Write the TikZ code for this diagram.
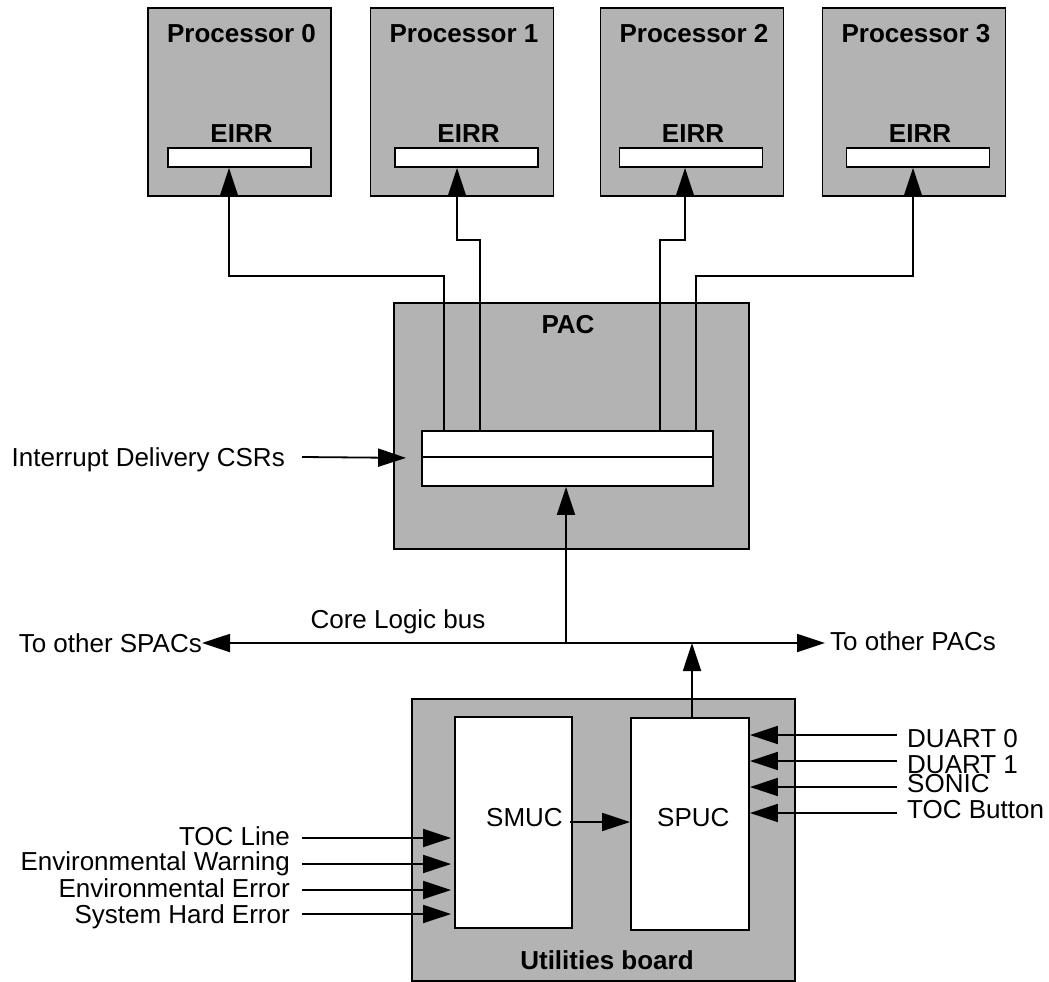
\documentclass[tikz,border=0pt]{standalone}
\usepackage{fontspec}
\setmainfont{Liberation Sans}
\usetikzlibrary{arrows.meta,calc}
\definecolor{boxgray}{RGB}{179,179,179}
\newcommand\myfs{\fontsize{26}{26}\selectfont}
\begin{document}
\begin{tikzpicture}[x=1pt,y=-1pt,
  gbox/.style={draw, line width=1.8pt, fill=boxgray, inner sep=0pt},
  wbox/.style={draw, line width=1.8pt, fill=white, inner sep=0pt},
  arr/.style={-{Triangle[length=28pt,width=18pt]}, line width=1.8pt},
  txt/.style={inner sep=0pt, font=\myfs},
  btxt/.style={inner sep=0pt, font=\myfs\bfseries},
]
\useasboundingbox (0,0) rectangle (1049,982);

% processors
\foreach \i/\cx/\bx in {0/239.5/239.5, 1/462/466.5, 2/692/691, 3/914/918}{
  \node[gbox, minimum width=183pt, minimum height=188pt] (p\i) at (\cx,102) {};
  \node[btxt, anchor=base] (pt\i) at (\cx+2,43) {Processor \i};
  \node[wbox, minimum width=143pt, minimum height=19pt] (e\i) at (\bx,157.5) {};
  \node[btxt, anchor=base] (el\i) at (\bx+2,142) {EIRR};
}

% PAC
\node[gbox, minimum width=355pt, minimum height=246pt] (pac) at (571.5,426) {};
\node[btxt, anchor=base] (pacl) at (568,333) {PAC};
\node[wbox, minimum width=291pt, minimum height=26pt] (csrA) at (567.5,444) {};
\node[wbox, minimum width=291pt, minimum height=29pt] (csrB) at (567.5,471.5) {};

% connectors PAC -> EIRR
\draw[arr] ($(csrA.north west)+(23,0)$) |- ($(e0.south)+(-10.5,108)$) -- ($(e0.south)+(-10.5,0)$);
\draw[arr] ($(csrA.north west)+(59,0)$) |- ($(e1.south)+(-9.5,72)$) -- ($(e1.south)+(-9.5,0)$);
\draw[arr] ($(csrA.north west)+(239,0)$) |- ($(e2.south)+(-6,72)$) -- ($(e2.south)+(-6,0)$);
\draw[arr] ($(csrA.north west)+(275,0)$) |- ($(e3.south)+(-5,108)$) -- ($(e3.south)+(-5,0)$);

% Interrupt delivery CSRs
\node[txt, anchor=base east] (idl) at (285,466) {Interrupt Delivery CSRs};
\coordinate (idstart) at (302,457);
\draw[arr] (idstart) -- ($(csrA.south west)+(-15,0)$);

% bus
\coordinate (bus) at (566,643);
\node[txt, anchor=base east] (spacs) at (202,652) {To other SPACs};
\node[txt, anchor=base west] (pacs) at (830,650) {To other PACs};
\node[txt, anchor=base] (cl) at (398,628) {Core Logic bus};
\draw[arr] (bus) -- (spacs.east |- bus);
\draw[arr] (bus) -- ($(pacs.west |- bus)+(-5,0)$);
\draw[arr] (bus) -- (bus |- csrB.south);

% utilities board
\node[gbox, minimum width=383pt, minimum height=282pt] (ub) at (603.5,840) {};
\node[btxt, anchor=base] (ubl) at (607,969) {Utilities board};
\node[wbox, minimum width=117pt, minimum height=211pt] (smuc) at (513.5,822.5) {};
\node[wbox, minimum width=118pt, minimum height=212pt] (spuc) at (690,824) {};
\node[txt, anchor=base west] (smucl) at (486,826) {SMUC};
\node[txt, anchor=base west] (spucl) at (657,826) {SPUC};

\draw[arr] ($(spuc.north)+(2,0)$) -- ($(spuc.north |- bus)+(2,0)$);
\coordinate (smo) at (570,822);
\draw[arr] (smo) -- (spuc.west |- smo);

% right inputs
\foreach \n/\ly/\by/\t in {d0/735/747/DUART 0, d1/761/773/DUART 1, so/787/792/SONIC, tb/813/818/TOC Button}{
  \node[txt, anchor=base west] (\n) at (907,\by) {\t};
  \coordinate (\n s) at (897,\ly);
  \draw[arr] (\n s) -- (spuc.east |- \n s);
}

% left inputs
\foreach \n/\ly/\by/\t in {tl/838/845/TOC Line, ew/864/870/Environmental Warning, ee/890/897/Environmental Error, sh/914/923/System Hard Error}{
  \node[txt, anchor=base east] (\n) at (290,\by) {\t};
  \coordinate (\n s) at (302,\ly);
  \draw[arr] (\n s) -- ($(smuc.west |- \n s)+(-3,0)$);
}
\end{tikzpicture}
\end{document}
